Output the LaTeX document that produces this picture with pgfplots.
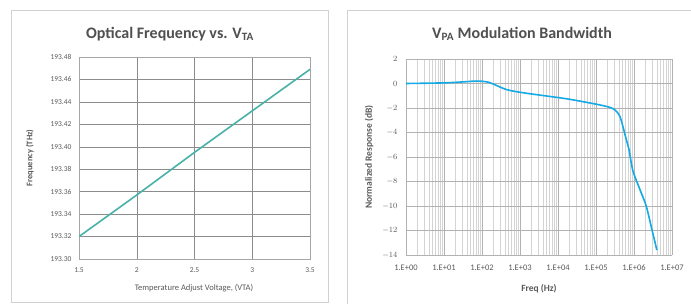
\documentclass[border=0pt]{standalone}
\usepackage{pgfplots}
\pgfplotsset{compat=1.18}
\usepackage{fontspec}
\setmainfont{Carlito}
\definecolor{tealline}{RGB}{72,178,168}
\definecolor{blueline}{RGB}{20,170,230}
\definecolor{txt}{RGB}{90,90,90}
\definecolor{ttl}{RGB}{80,80,80}
\begin{document}
\begin{tikzpicture}[x=1pt,y=1pt]
\useasboundingbox (0,0) rectangle (691,304);
\fill[white] (0,0) rectangle (691,304);
% panel frames
\draw[black!18, line width=0.8pt] (11,2) rectangle (328,294);
\draw[black!18, line width=0.8pt] (347,-2) -- (347,294) -- (695,294);
% left chart
\begin{axis}[
  at={(79pt,45pt)}, anchor=south west,
  scale only axis, width=231pt, height=202pt,
  xmin=1.5, xmax=3.5, ymin=193.30, ymax=193.48,
  xtick={1.5,2,2.5,3,3.5},
  ytick={193.30,193.32,193.34,193.36,193.38,193.40,193.42,193.44,193.46,193.48},
  /pgf/number format/assume math mode=true,
  yticklabel style={/pgf/number format/fixed, /pgf/number format/fixed zerofill, /pgf/number format/precision=2, xshift=-4pt},
  xticklabel style={/pgf/number format/fixed, /pgf/number format/precision=1, yshift=-5pt},
  tick label style={font=\fontsize{7.5}{8}\selectfont, text=txt},
  grid=major, major grid style={black!45, line width=0.5pt},
  axis line style={black!35}, tick style={draw=none},
  scaled y ticks=false,
]
\addplot[tealline, line width=1.6pt] coordinates {
(1.5,193.320) (2.0,193.357) (2.5,193.395) (3.0,193.432) (3.5,193.469)};
\end{axis}
\node[text=ttl, font=\fontsize{16}{18}\selectfont\bfseries] at (170,270) {Optical Frequency vs. V\textsubscript{TA}};
\node[text=txt, font=\fontsize{8.5}{9}\selectfont] at (194,16) {Temperature Adjust Voltage, (VTA)};
\node[text=txt, font=\fontsize{8.5}{9}\selectfont\bfseries, rotate=90] at (30,146) {Frequency (THz)};
% right chart
\begin{axis}[
  at={(406pt,49pt)}, anchor=south west,
  scale only axis, width=266pt, height=196pt,
  xmode=log, xmin=1, xmax=1e7, ymin=-14, ymax=2,
  xtick={1,10,100,1000,10000,100000,1000000,10000000},
  xticklabels={1.E+00,1.E+01,1.E+02,1.E+03,1.E+04,1.E+05,1.E+06,1.E+07},
  ytick={-14,-12,-10,-8,-6,-4,-2,0,2},
  /pgf/number format/assume math mode=true,
  tick label style={font=\fontsize{8.5}{9}\selectfont, text=txt},
  xticklabel style={yshift=-6pt},
  yticklabel style={xshift=-5pt},
  xmajorgrids, ymajorgrids, xminorgrids,
  major grid style={black!30, line width=0.5pt},
  minor grid style={black!17, line width=0.4pt},
  axis line style={black!30}, tick style={draw=none},
  axis x line*=bottom, axis y line*=left,
  yticklabel={$\pgfmathprintnumber{\tick}$},
]
\addplot[blueline, line width=1.6pt, smooth, tension=0.4] coordinates {
(1,0) (10,0.05) (40,0.15) (72,0.2) (150,0.1) (445,-0.5) (1500,-0.8) (17000,-1.25)
(126000,-1.75) (280000,-2.05) (427000,-2.7) (630000,-4.6) (740000,-5.4)
(930000,-7.1) (1450000,-8.7) (2100000,-10) (2950000,-11.9) (4000000,-13.6)};
\end{axis}
\node[text=ttl, font=\fontsize{16}{18}\selectfont\bfseries] at (522,270) {V\textsubscript{PA} Modulation Bandwidth};
\node[text=txt, font=\fontsize{9.5}{10}\selectfont\bfseries] at (539,15) {Freq (Hz)};
\node[text=txt, font=\fontsize{9.5}{10}\selectfont\bfseries, rotate=90] at (369,147) {Normalized Response (dB)};
\end{tikzpicture}
\end{document}
